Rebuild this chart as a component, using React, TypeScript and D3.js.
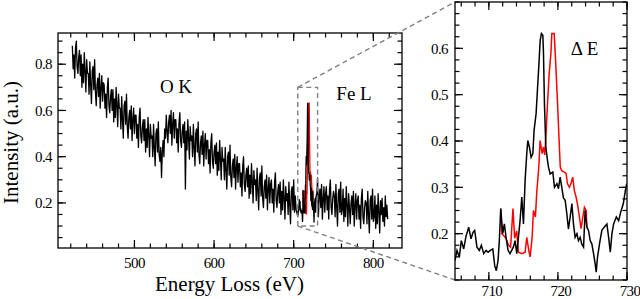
import React from "react";
import * as d3 from "d3";

const FONT = "Liberation Serif, DejaVu Serif, Times New Roman, serif";

// overview spectrum, 1 eV steps, below the Fe L window (422..703 eV)
const lowStart = 422;
const lowValues = [
  0.88, 0.78, 0.84, 0.74, 0.87, 0.90, 0.79, 0.76, 0.83, 0.86,
  0.75, 0.84, 0.70, 0.80, 0.72, 0.85, 0.77, 0.68, 0.82, 0.76,
  0.76, 0.67, 0.81, 0.71, 0.63, 0.77, 0.79, 0.69, 0.82, 0.68,
  0.62, 0.71, 0.74, 0.66, 0.76, 0.61, 0.70, 0.75, 0.64, 0.72,
  0.71, 0.61, 0.67, 0.57, 0.70, 0.74, 0.62, 0.59, 0.66, 0.69,
  0.60, 0.69, 0.55, 0.65, 0.57, 0.70, 0.62, 0.53, 0.67, 0.61,
  0.61, 0.52, 0.66, 0.56, 0.48, 0.62, 0.64, 0.54, 0.67, 0.53,
  0.48, 0.57, 0.60, 0.52, 0.62, 0.47, 0.56, 0.61, 0.50, 0.58,
  0.58, 0.48, 0.54, 0.44, 0.57, 0.61, 0.49, 0.46, 0.53, 0.56,
  0.47, 0.56, 0.42, 0.52, 0.44, 0.57, 0.49, 0.40, 0.54, 0.48,
  0.49, 0.40, 0.54, 0.44, 0.36, 0.50, 0.52, 0.42, 0.55, 0.41,
  0.38, 0.44, 0.31, 0.42, 0.47, 0.40, 0.52, 0.48, 0.58, 0.51,
  0.46, 0.55, 0.58, 0.50, 0.60, 0.45, 0.54, 0.59, 0.48, 0.56,
  0.56, 0.46, 0.52, 0.42, 0.55, 0.59, 0.47, 0.44, 0.51, 0.54,
  0.46, 0.55, 0.26, 0.51, 0.43, 0.56, 0.48, 0.39, 0.53, 0.47,
  0.49, 0.40, 0.54, 0.44, 0.36, 0.50, 0.52, 0.42, 0.55, 0.41,
  0.37, 0.46, 0.49, 0.41, 0.51, 0.36, 0.45, 0.50, 0.39, 0.47,
  0.47, 0.37, 0.43, 0.33, 0.46, 0.50, 0.38, 0.35, 0.42, 0.45,
  0.37, 0.46, 0.32, 0.42, 0.34, 0.47, 0.39, 0.30, 0.44, 0.38,
  0.39, 0.30, 0.44, 0.34, 0.26, 0.40, 0.42, 0.32, 0.45, 0.31,
  0.27, 0.36, 0.39, 0.31, 0.41, 0.26, 0.35, 0.40, 0.29, 0.37,
  0.37, 0.27, 0.33, 0.23, 0.36, 0.40, 0.28, 0.25, 0.32, 0.35,
  0.27, 0.36, 0.22, 0.32, 0.24, 0.37, 0.29, 0.20, 0.34, 0.28,
  0.30, 0.21, 0.35, 0.25, 0.17, 0.31, 0.33, 0.23, 0.36, 0.22,
  0.18, 0.27, 0.30, 0.22, 0.32, 0.17, 0.26, 0.31, 0.20, 0.28,
  0.30, 0.20, 0.26, 0.16, 0.29, 0.33, 0.21, 0.18, 0.25, 0.28,
  0.20, 0.29, 0.15, 0.25, 0.17, 0.30, 0.22, 0.13, 0.27, 0.21,
  0.24, 0.15, 0.29, 0.19, 0.11, 0.25, 0.27, 0.17, 0.30, 0.16,
  0.23, 0.17,
];
// overview spectrum above the Fe L window (731..818 eV)
const highStart = 731;
const highValues = [
  0.14, 0.23, 0.26, 0.18, 0.28, 0.13, 0.22, 0.27, 0.16, 0.24,
  0.27, 0.17, 0.23, 0.13, 0.26, 0.30, 0.18, 0.15, 0.22, 0.25,
  0.23, 0.14, 0.28, 0.18, 0.10, 0.24, 0.26, 0.16, 0.29, 0.15,
  0.17, 0.26, 0.12, 0.22, 0.14, 0.27, 0.19, 0.10, 0.24, 0.18,
  0.11, 0.20, 0.23, 0.15, 0.25, 0.10, 0.19, 0.24, 0.13, 0.21,
  0.23, 0.13, 0.19, 0.09, 0.22, 0.26, 0.14, 0.11, 0.18, 0.21,
  0.20, 0.11, 0.25, 0.15, 0.07, 0.21, 0.23, 0.13, 0.26, 0.12,
  0.14, 0.23, 0.09, 0.19, 0.11, 0.24, 0.16, 0.07, 0.21, 0.15,
  0.22, 0.12, 0.18, 0.10, 0.23, 0.14, 0.19, 0.13,
];
const overviewStep = 1;

// Fe L edge, black spectrum
const feEnergy = [
  705.10, 705.39, 705.72, 706.01, 706.36, 706.69, 707.08, 707.42, 707.71, 707.95,
  708.28, 708.62, 708.92, 709.26, 709.60, 709.89, 710.22, 710.57, 710.85, 711.08,
  711.33, 711.52, 711.72, 712.01, 712.25, 712.49, 712.78, 713.06, 713.55, 713.80,
  714.04, 714.28, 714.52, 714.77, 715.01, 715.25, 715.49, 715.64, 715.87, 716.12,
  716.37, 716.55, 716.84, 717.03, 717.28, 717.43, 717.61, 717.82, 717.91, 718.05,
  718.25, 718.49, 718.63, 718.87, 719.26, 719.50, 719.85, 720.08, 720.32, 720.56,
  720.80, 721.05, 721.29, 721.52, 721.77, 722.02, 722.25, 722.49, 722.75, 722.97,
  723.22, 723.45, 723.71, 723.94, 724.19, 724.43, 724.67, 724.91, 725.16, 725.39,
  725.54, 725.73, 726.02, 726.36, 726.70, 727.09, 727.34, 727.58, 727.82, 728.06,
  728.46, 728.79, 729.08, 729.47, 729.76, 729.96,
];
const feBlack = [
  0.142, 0.164, 0.149, 0.185, 0.167, 0.194, 0.214, 0.189, 0.203, 0.207,
  0.171, 0.164, 0.175, 0.157, 0.164, 0.160, 0.164, 0.167, 0.131, 0.120,
  0.142, 0.185, 0.254, 0.200, 0.221, 0.192, 0.164, 0.157, 0.171, 0.185,
  0.157, 0.192, 0.228, 0.279, 0.221, 0.315, 0.373, 0.401, 0.387, 0.365,
  0.373, 0.423, 0.459, 0.509, 0.574, 0.617, 0.632, 0.628, 0.589, 0.480,
  0.387, 0.358, 0.344, 0.329, 0.333, 0.300, 0.308, 0.297, 0.322, 0.300,
  0.277, 0.272, 0.243, 0.210, 0.236, 0.265, 0.221, 0.192, 0.200, 0.185,
  0.192, 0.178, 0.171, 0.250, 0.214, 0.207, 0.185, 0.178, 0.157, 0.135,
  0.117, 0.149, 0.178, 0.207, 0.214, 0.221, 0.192, 0.160, 0.200, 0.221,
  0.236, 0.228, 0.246, 0.265, 0.293, 0.308,
];

// Fe L edge, red (shifted) spectrum
const feRedEnergy = [
  711.72, 711.88, 712.13, 712.47, 712.86, 713.15, 713.49, 713.74, 714.03, 714.28,
  714.77, 715.25, 715.49, 715.78, 715.97, 716.26, 716.45, 716.74, 716.94, 717.23,
  717.42, 717.72, 717.91, 718.10, 718.30, 718.49, 718.73, 718.98, 719.12, 719.46,
  719.66, 719.95, 720.19, 720.34, 720.53, 720.92, 721.18, 721.37, 721.66, 721.89,
  722.14, 722.38, 722.63, 722.82, 723.11, 723.35, 723.61, 723.84, 724.09, 724.19,
];
const feRed = [
  0.254, 0.200, 0.196, 0.190, 0.175, 0.171, 0.254, 0.190, 0.206, 0.160,
  0.157, 0.160, 0.192, 0.164, 0.150, 0.190, 0.250, 0.236, 0.290, 0.344,
  0.401, 0.373, 0.387, 0.370, 0.423, 0.480, 0.545, 0.588, 0.632, 0.632,
  0.574, 0.480, 0.394, 0.344, 0.336, 0.333, 0.330, 0.308, 0.300, 0.308,
  0.322, 0.293, 0.279, 0.265, 0.236, 0.211, 0.236, 0.257, 0.250, 0.214,
];

const mainXTicks = [500, 600, 700, 800];
const mainYTicks = [0.2, 0.4, 0.6, 0.8];
const insetXTicks = [710, 720, 730];
const insetYTicks = [0.2, 0.3, 0.4, 0.5, 0.6];
const windowBox = { e0: 705.1, e1: 730, v0: 0.1, v1: 0.7 };

type Pt = [number, number];

const mainPoints: Pt[] = [
  ...lowValues.map((v, i) => [lowStart + i * overviewStep, v] as Pt),
  ...feEnergy.map((e, i) => [e, feBlack[i]] as Pt),
  ...highValues.map((v, i) => [highStart + i * overviewStep, v] as Pt),
];
const redPoints: Pt[] = feRedEnergy.map((e, i) => [e, feRed[i]] as Pt);
const blackFe: Pt[] = feEnergy.map((e, i) => [e, feBlack[i]] as Pt);

function Ticks({ x, y, xMajor, xMinor, yMajor, yMinor }: any) {
  const [x0, x1] = x.range();
  const [y1, y0] = y.range();
  const big = 8;
  const small = 4.5;
  const segs: JSX.Element[] = [];
  const addX = (v: number, len: number, k: string) => {
    const px = x(v);
    segs.push(<line key={"xb" + k} x1={px} x2={px} y1={y1} y2={y1 - len} />);
    segs.push(<line key={"xt" + k} x1={px} x2={px} y1={y0} y2={y0 + len} />);
  };
  const addY = (v: number, len: number, k: string) => {
    const py = y(v);
    segs.push(<line key={"yl" + k} x1={x0} x2={x0 + len} y1={py} y2={py} />);
    segs.push(<line key={"yr" + k} x1={x1} x2={x1 - len} y1={py} y2={py} />);
  };
  xMinor.forEach((v: number, i: number) => addX(v, small, "m" + i));
  xMajor.forEach((v: number, i: number) => addX(v, big, "M" + i));
  yMinor.forEach((v: number, i: number) => addY(v, small, "m" + i));
  yMajor.forEach((v: number, i: number) => addY(v, big, "M" + i));
  return (
    <g stroke="#000" strokeWidth={1.2}>
      {segs}
      <rect x={x0} y={y0} width={x1 - x0} height={y1 - y0} fill="none" strokeWidth={1.3} />
    </g>
  );
}

export default function App() {
  const x = d3.scaleLinear().domain([404, 836]).range([58, 402]);
  const y = d3.scaleLinear().domain([0.005, 0.935]).range([248, 33]);
  const xi = d3.scaleLinear().domain([705.1, 730]).range([455, 627]);
  const yi = d3.scaleLinear().domain([0.1, 0.7]).range([280, 2]);

  const line = d3.line<Pt>().x((d) => x(d[0])).y((d) => y(d[1]));
  const lineI = d3.line<Pt>().x((d) => xi(d[0])).y((d) => yi(d[1]));

  const bx0 = x(windowBox.e0), bx1 = x(windowBox.e1);
  const by0 = y(windowBox.v1), by1 = y(windowBox.v0);
  const [ix0] = xi.range();
  const [iy1, iy0] = yi.range();

  const mainXMinor = d3.range(420, 821, 20);
  const mainYMinor = d3.range(0.05, 0.93, 0.05);
  const insetXMinor = d3.range(706, 730.1, 2);
  const insetYMinor = d3.range(0.1, 0.701, 0.025);

  const ts = { fontFamily: FONT };

  return (
    <svg width={640} height={299} style={{ position: "absolute", left: 0, top: 0, background: "#fff" }}>
      <defs>
        <clipPath id="insetClip">
          <rect x={455} y={2} width={172} height={278} />
        </clipPath>
      </defs>

      {/* overview */}
      <path d={line(redPoints) || ""} fill="none" stroke="#ff0000" strokeWidth={1.3} />
      <path d={line(mainPoints) || ""} fill="none" stroke="#000" strokeWidth={1.3} strokeLinejoin="round" />
      <Ticks x={x} y={y} xMajor={mainXTicks} xMinor={mainXMinor} yMajor={mainYTicks} yMinor={mainYMinor} />

      {mainXTicks.map((t) => (
        <text key={t} style={ts} x={x(t)} y={268} fontSize={15} textAnchor="middle" letterSpacing={-0.6}>{t}</text>
      ))}
      {mainYTicks.map((t) => (
        <text key={t} style={ts} x={52} y={y(t)} dy="0.35em" fontSize={15} textAnchor="end" letterSpacing={-0.6}>{t.toFixed(1)}</text>
      ))}
      <text style={ts} x={229.5} y={291} fontSize={21} textAnchor="middle">Energy Loss (eV)</text>
      <text style={ts} transform={`translate(17.5,142.5) rotate(-90)`} fontSize={21} textAnchor="middle">Intensity (a.u.)</text>
      <text style={ts} x={176} y={93} fontSize={19} textAnchor="middle">O K</text>
      <text style={ts} x={354} y={100} fontSize={19} textAnchor="middle">Fe L</text>

      {/* zoom window and connectors */}
      <g stroke="#808080" strokeWidth={1.4} strokeDasharray="5,3.5" fill="none">
        <rect x={bx0} y={by0} width={bx1 - bx0} height={by1 - by0} />
        <line x1={bx0} y1={by0} x2={ix0} y2={iy0} />
        <line x1={bx0} y1={by1} x2={ix0} y2={iy1} />
      </g>

      {/* inset */}
      <g clipPath="url(#insetClip)">
        <path d={lineI(redPoints) || ""} fill="none" stroke="#ff0000" strokeWidth={1.5} />
        <path d={lineI(blackFe) || ""} fill="none" stroke="#000" strokeWidth={1.5} />
      </g>
      <Ticks x={xi} y={yi} xMajor={insetXTicks} xMinor={insetXMinor} yMajor={insetYTicks} yMinor={insetYMinor} />
      {insetXTicks.map((t) => (
        <text key={t} style={ts} x={xi(t) + 3} y={296} fontSize={15} textAnchor="middle" letterSpacing={-0.6}>{t}</text>
      ))}
      {insetYTicks.map((t) => (
        <text key={t} style={ts} x={448} y={yi(t)} dy="0.35em" fontSize={15} textAnchor="end" letterSpacing={-0.6}>{t.toFixed(1)}</text>
      ))}
      <text style={ts} x={584.5} y={55} fontSize={19} textAnchor="middle">Δ E</text>
    </svg>
  );
}
